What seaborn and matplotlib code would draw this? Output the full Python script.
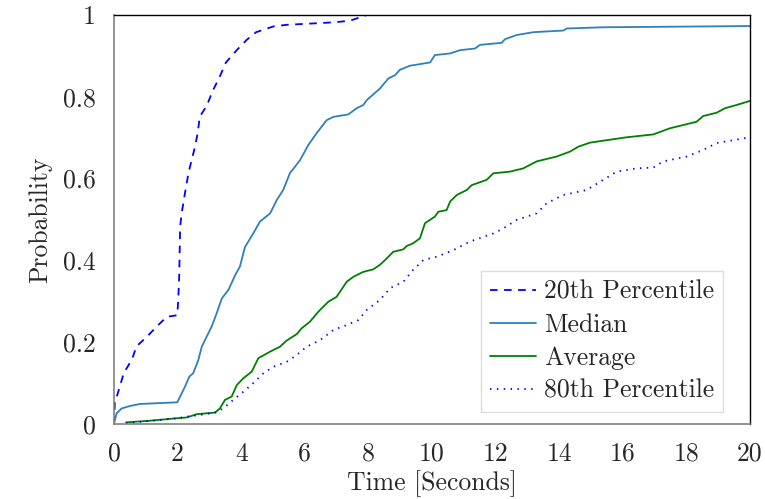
import numpy as np
import pandas as pd
import matplotlib
matplotlib.use("Agg")
import matplotlib.pyplot as plt
import seaborn as sns

# ---- data ----
p20_x = [0.0, 0.03, 0.1, 0.31, 0.56, 0.71, 1.03, 1.39, 1.66, 1.99, 2.02, 2.05, 2.08, 2.13, 2.23,
         2.34, 2.44, 2.55, 2.63, 2.70, 2.91, 3.12, 3.33, 3.52, 3.86, 4.17, 4.47, 5.01, 5.43,
         6.90, 7.42, 7.95]
p20_y = [0.0, 0.06, 0.07, 0.125, 0.157, 0.19, 0.213, 0.242, 0.262, 0.266, 0.303, 0.36, 0.482,
         0.516, 0.564, 0.613, 0.645, 0.678, 0.711, 0.752, 0.777, 0.817, 0.85, 0.884, 0.914,
         0.939, 0.958, 0.972, 0.976, 0.982, 0.986, 1.0]

med_x = [0.0, 0.08, 0.24, 0.5, 0.82, 1.99, 2.13, 2.23, 2.37, 2.49, 2.65, 2.76, 2.91, 3.07, 3.23,
         3.39, 3.60, 3.81, 3.96, 4.12, 4.38, 4.59, 4.91, 5.12, 5.32, 5.53, 5.85, 6.11, 6.37,
         6.69, 6.90, 7.37, 7.63, 7.84, 7.95, 8.36, 8.63, 8.84, 8.99, 9.31, 9.94, 10.09, 10.57,
         10.88, 11.35, 11.51, 12.19, 12.30, 12.66, 13.19, 14.13, 14.24, 15.39, 20.0]
med_y = [0.0, 0.026, 0.038, 0.044, 0.049, 0.053, 0.075, 0.091, 0.116, 0.124, 0.156, 0.189, 0.213,
         0.238, 0.271, 0.307, 0.328, 0.364, 0.385, 0.433, 0.466, 0.495, 0.515, 0.548, 0.572,
         0.613, 0.645, 0.682, 0.711, 0.743, 0.751, 0.757, 0.772, 0.780, 0.792, 0.82, 0.845,
         0.853, 0.866, 0.876, 0.884, 0.902, 0.906, 0.914, 0.918, 0.927, 0.932, 0.941, 0.951,
         0.958, 0.962, 0.967, 0.970, 0.973]

avg_x = [0.38, 1.13, 1.97, 2.29, 2.60, 3.18, 3.33, 3.49, 3.70, 3.86, 4.07, 4.33, 4.54, 4.91, 5.22,
         5.43, 5.75, 5.90, 6.16, 6.43, 6.74, 7.00, 7.32, 7.53, 7.84, 8.15, 8.36, 8.58, 8.78,
         9.10, 9.20, 9.41, 9.62, 9.78, 10.09, 10.20, 10.46, 10.57, 10.78, 11.09, 11.25, 11.72,
         11.93, 12.45, 12.87, 13.29, 13.92, 14.34, 14.60, 14.97, 16.12, 16.96, 17.48, 18.32,
         18.53, 18.95, 19.21, 19.58, 20.0]
avg_y = [0.004, 0.008, 0.014, 0.016, 0.024, 0.028, 0.038, 0.059, 0.067, 0.095, 0.112, 0.128,
         0.161, 0.177, 0.189, 0.204, 0.220, 0.234, 0.250, 0.275, 0.299, 0.311, 0.348, 0.360,
         0.372, 0.378, 0.389, 0.405, 0.421, 0.427, 0.435, 0.442, 0.454, 0.491, 0.507, 0.519,
         0.523, 0.544, 0.560, 0.572, 0.584, 0.597, 0.613, 0.617, 0.625, 0.642, 0.654, 0.666,
         0.678, 0.688, 0.701, 0.708, 0.723, 0.739, 0.753, 0.761, 0.772, 0.780, 0.790]

p80_x = [0.38, 1.97, 2.29, 2.70, 3.18, 3.44, 3.75, 4.07, 4.38, 4.70, 5.01, 5.43, 5.75, 6.06, 6.48,
         6.90, 7.32, 7.68, 7.95, 8.36, 8.68, 9.10, 9.41, 9.73, 10.15, 10.67, 11.19, 11.93,
         12.24, 12.66, 13.29, 13.61, 14.13, 14.86, 15.28, 15.81, 16.43, 16.96, 17.27, 18.01,
         18.53, 18.95, 19.48, 20.0]
p80_y = [0.002, 0.014, 0.018, 0.022, 0.028, 0.038, 0.059, 0.079, 0.100, 0.124, 0.140, 0.152,
         0.169, 0.189, 0.205, 0.230, 0.242, 0.254, 0.279, 0.303, 0.332, 0.348, 0.377, 0.401,
         0.409, 0.425, 0.446, 0.466, 0.478, 0.499, 0.515, 0.540, 0.560, 0.572, 0.592, 0.617,
         0.625, 0.627, 0.642, 0.654, 0.670, 0.687, 0.694, 0.701]

labels = ["20th Percentile", "Median", "Average", "80th Percentile"]
x_ticks = [0, 2, 4, 6, 8, 10, 12, 14, 16, 18, 20]
y_ticks = [0, 0.2, 0.4, 0.6, 0.8, 1]
y_tick_labels = ["0", "0.2", "0.4", "0.6", "0.8", "1"]

# ---- style ----
sns.set_style("white")
plt.rcParams["font.family"] = ["cmr10", "DejaVu Serif"]
plt.rcParams["mathtext.fontset"] = "cm"

fig = plt.figure(figsize=(7.65, 4.99), dpi=100)
ax = fig.add_axes([114 / 765, 1 - 424 / 499, (750 - 114) / 765, (424 - 15) / 499])

lw = 1.3
sns.lineplot(x=p20_x, y=p20_y, ax=ax, color="#0000ff", lw=lw, sort=False, estimator=None,
             label=labels[0], dashes=False)
ax.lines[-1].set_dashes((4.2, 3.6))
sns.lineplot(x=med_x, y=med_y, ax=ax, color="#2f7fbd", lw=lw, sort=False, estimator=None,
             label=labels[1])
sns.lineplot(x=avg_x, y=avg_y, ax=ax, color="#008000", lw=lw, sort=False, estimator=None,
             label=labels[2])
sns.lineplot(x=p80_x, y=p80_y, ax=ax, color="#0000ff", lw=lw, sort=False, estimator=None,
             label=labels[3])
ax.lines[-1].set_linestyle((0, (0.8, 3.0)))

ax.set_xlim(0, 20)
ax.set_ylim(0, 1)
ax.set_xticks(x_ticks)
ax.set_xticklabels([str(t) for t in x_ticks])
ax.set_yticks(y_ticks)
ax.set_yticklabels(y_tick_labels)

fs = 18.5
ax.tick_params(axis="both", direction="out", length=8, width=1.0, color="#808080",
               labelsize=fs, pad=5)
ax.set_xlabel("Time [Seconds]", fontsize=fs, labelpad=3)
ax.set_ylabel("Probability", fontsize=fs, labelpad=8)

for side in ["left", "bottom"]:
    ax.spines[side].set_color("#808080")
    ax.spines[side].set_linewidth(1.2)
for side in ["top", "right"]:
    ax.spines[side].set_color("black")
    ax.spines[side].set_linewidth(1.0)

leg = ax.legend(loc="lower right", bbox_to_anchor=(0.958, 0.03), fontsize=fs,
                frameon=True, fancybox=False, framealpha=1, edgecolor="#dddddd",
                handlelength=1.8, handletextpad=0.3, labelspacing=0.36, borderpad=0.35,
                borderaxespad=0)

fig.savefig("out.png", dpi=100)
